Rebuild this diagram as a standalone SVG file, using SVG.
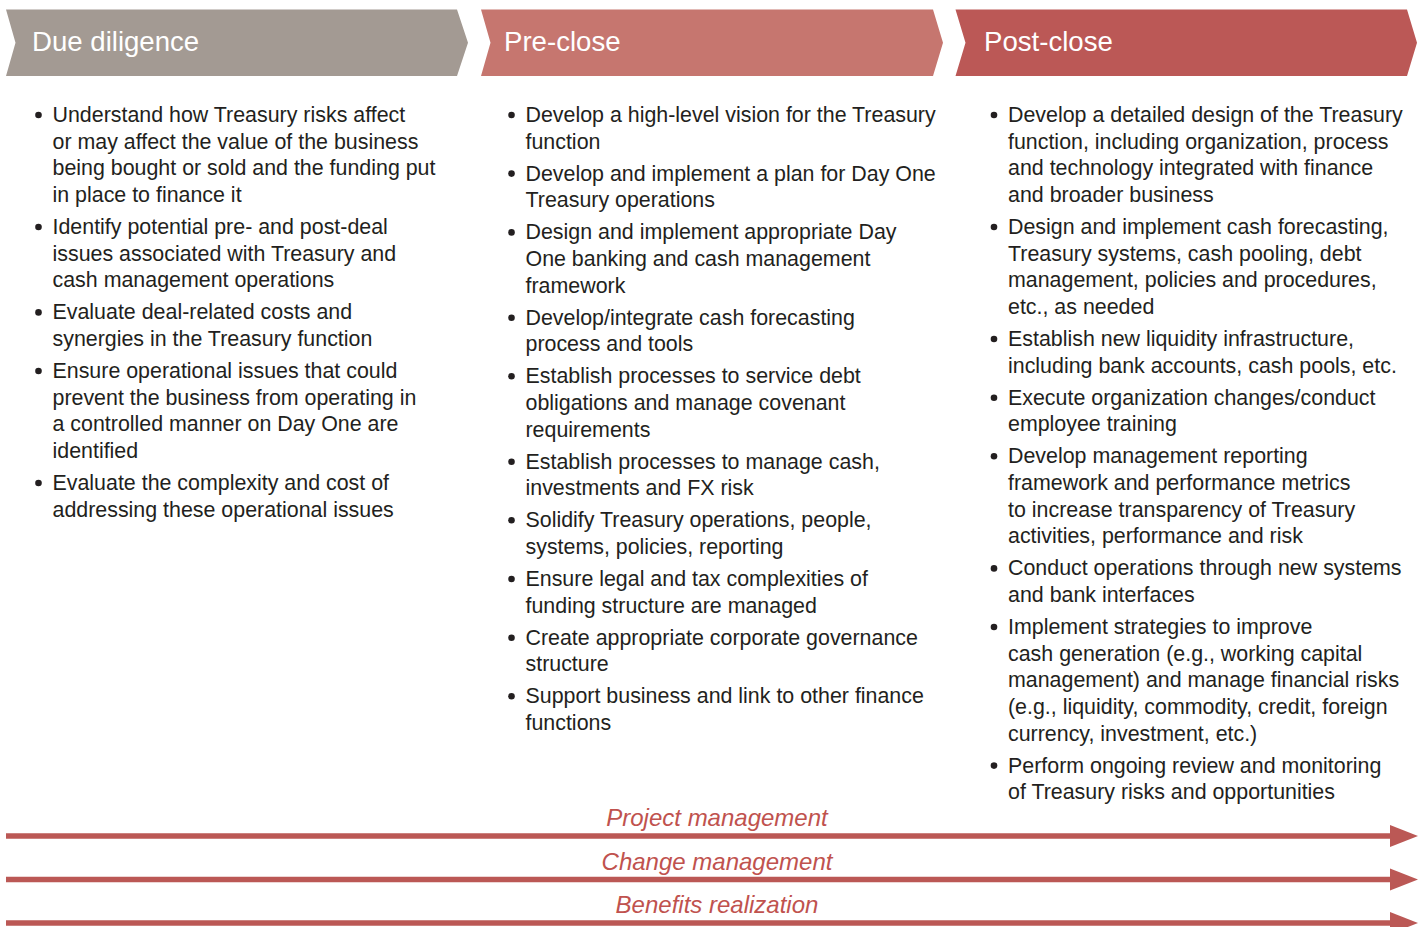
<svg xmlns="http://www.w3.org/2000/svg" width="1420" height="927" viewBox="0 0 1420 927">
<defs>
<style>
.hdr{font-family:"Liberation Sans",Arial,sans-serif;font-size:27.6px;fill:#ffffff}
.body{font-family:"Liberation Sans",Arial,sans-serif;font-size:21.4px;fill:#231f20}
.lbl{font-family:"Liberation Sans",Arial,sans-serif;font-size:24px;font-style:italic;fill:#c0524e;text-anchor:middle}
.dot{fill:#231f20}
.bar{stroke:#bb5855;stroke-width:5.5;fill:none}
.head{fill:#bb5855}
</style>
</defs>
<rect width="1420" height="927" fill="#ffffff"/>

<g id="due-diligence">
<polygon points="6,9.5 457,9.5 468,42.7 457,76 6,76 15.5,42.7" fill="#a39a93"/>
<text class="hdr" x="32" y="50.5">Due diligence</text>
</g>
<g id="pre-close">
<polygon points="481,9.5 933,9.5 943,42.7 933,76 481,76 490.5,42.7" fill="#c6766f"/>
<text class="hdr" x="504" y="50.5">Pre-close</text>
</g>
<g id="post-close">
<polygon points="955.5,9.5 1407,9.5 1417,42.7 1407,76 955.5,76 965.5,42.7" fill="#bb5856"/>
<text class="hdr" x="984" y="50.5">Post-close</text>
</g>

<g id="due-diligence-list">
<circle class="dot" cx="38.5" cy="115" r="3.3"/>
<circle class="dot" cx="38.5" cy="227" r="3.3"/>
<circle class="dot" cx="38.5" cy="312.4" r="3.3"/>
<circle class="dot" cx="38.5" cy="371" r="3.3"/>
<circle class="dot" cx="38.5" cy="483" r="3.3"/>
<text class="body">
<tspan x="52.5" y="122">Understand how Treasury risks affect</tspan>
<tspan x="52.5" y="148.7">or may affect the value of the business</tspan>
<tspan x="52.5" y="175.3">being bought or sold and the funding put</tspan>
<tspan x="52.5" y="202">in place to finance it</tspan>
<tspan x="52.5" y="234">Identify potential pre- and post-deal</tspan>
<tspan x="52.5" y="260.7">issues associated with Treasury and</tspan>
<tspan x="52.5" y="287.3">cash management operations</tspan>
<tspan x="52.5" y="319.4">Evaluate deal-related costs and</tspan>
<tspan x="52.5" y="346">synergies in the Treasury function</tspan>
<tspan x="52.5" y="378">Ensure operational issues that could</tspan>
<tspan x="52.5" y="404.7">prevent the business from operating in</tspan>
<tspan x="52.5" y="431.3">a controlled manner on Day One are</tspan>
<tspan x="52.5" y="458">identified</tspan>
<tspan x="52.5" y="490">Evaluate the complexity and cost of</tspan>
<tspan x="52.5" y="516.7">addressing these operational issues</tspan>
</text>
</g>

<g id="pre-close-list">
<circle class="dot" cx="511.5" cy="115" r="3.3"/>
<circle class="dot" cx="511.5" cy="173.6" r="3.3"/>
<circle class="dot" cx="511.5" cy="232.4" r="3.3"/>
<circle class="dot" cx="511.5" cy="317.7" r="3.3"/>
<circle class="dot" cx="511.5" cy="376.3" r="3.3"/>
<circle class="dot" cx="511.5" cy="461.7" r="3.3"/>
<circle class="dot" cx="511.5" cy="520.3" r="3.3"/>
<circle class="dot" cx="511.5" cy="579" r="3.3"/>
<circle class="dot" cx="511.5" cy="637.7" r="3.3"/>
<circle class="dot" cx="511.5" cy="696.3" r="3.3"/>
<text class="body">
<tspan x="525.5" y="122">Develop a high-level vision for the Treasury</tspan>
<tspan x="525.5" y="148.7">function</tspan>
<tspan x="525.5" y="180.6">Develop and implement a plan for Day One</tspan>
<tspan x="525.5" y="207.3">Treasury operations</tspan>
<tspan x="525.5" y="239.4">Design and implement appropriate Day</tspan>
<tspan x="525.5" y="266">One banking and cash management</tspan>
<tspan x="525.5" y="292.7">framework</tspan>
<tspan x="525.5" y="324.7">Develop/integrate cash forecasting</tspan>
<tspan x="525.5" y="351.4">process and tools</tspan>
<tspan x="525.5" y="383.3">Establish processes to service debt</tspan>
<tspan x="525.5" y="410">obligations and manage covenant</tspan>
<tspan x="525.5" y="436.7">requirements</tspan>
<tspan x="525.5" y="468.7">Establish processes to manage cash,</tspan>
<tspan x="525.5" y="495.4">investments and FX risk</tspan>
<tspan x="525.5" y="527.3">Solidify Treasury operations, people,</tspan>
<tspan x="525.5" y="554">systems, policies, reporting</tspan>
<tspan x="525.5" y="586">Ensure legal and tax complexities of</tspan>
<tspan x="525.5" y="612.7">funding structure are managed</tspan>
<tspan x="525.5" y="644.7">Create appropriate corporate governance</tspan>
<tspan x="525.5" y="671.4">structure</tspan>
<tspan x="525.5" y="703.3">Support business and link to other finance</tspan>
<tspan x="525.5" y="730">functions</tspan>
</text>
</g>

<g id="post-close-list">
<circle class="dot" cx="994" cy="115" r="3.3"/>
<circle class="dot" cx="994" cy="227" r="3.3"/>
<circle class="dot" cx="994" cy="339" r="3.3"/>
<circle class="dot" cx="994" cy="397.7" r="3.3"/>
<circle class="dot" cx="994" cy="456.3" r="3.3"/>
<circle class="dot" cx="994" cy="568.4" r="3.3"/>
<circle class="dot" cx="994" cy="627" r="3.3"/>
<circle class="dot" cx="994" cy="765.6" r="3.3"/>
<text class="body">
<tspan x="1008" y="122">Develop a detailed design of the Treasury</tspan>
<tspan x="1008" y="148.7">function, including organization, process</tspan>
<tspan x="1008" y="175.3">and technology integrated with finance</tspan>
<tspan x="1008" y="202">and broader business</tspan>
<tspan x="1008" y="234">Design and implement cash forecasting,</tspan>
<tspan x="1008" y="260.7">Treasury systems, cash pooling, debt</tspan>
<tspan x="1008" y="287.3">management, policies and procedures,</tspan>
<tspan x="1008" y="314">etc., as needed</tspan>
<tspan x="1008" y="346">Establish new liquidity infrastructure,</tspan>
<tspan x="1008" y="372.7">including bank accounts, cash pools, etc.</tspan>
<tspan x="1008" y="404.7">Execute organization changes/conduct</tspan>
<tspan x="1008" y="431.3">employee training</tspan>
<tspan x="1008" y="463.3">Develop management reporting</tspan>
<tspan x="1008" y="490">framework and performance metrics</tspan>
<tspan x="1008" y="516.7">to increase transparency of Treasury</tspan>
<tspan x="1008" y="543.3">activities, performance and risk</tspan>
<tspan x="1008" y="575.4">Conduct operations through new systems</tspan>
<tspan x="1008" y="602">and bank interfaces</tspan>
<tspan x="1008" y="634">Implement strategies to improve</tspan>
<tspan x="1008" y="660.7">cash generation (e.g., working capital</tspan>
<tspan x="1008" y="687.3">management) and manage financial risks</tspan>
<tspan x="1008" y="714">(e.g., liquidity, commodity, credit, foreign</tspan>
<tspan x="1008" y="740.7">currency, investment, etc.)</tspan>
<tspan x="1008" y="772.6">Perform ongoing review and monitoring</tspan>
<tspan x="1008" y="799.3">of Treasury risks and opportunities</tspan>
</text>
</g>

<g id="connectors">
<g id="project-management">
<line class="bar" x1="6" y1="836" x2="1393" y2="836"/>
<polygon class="head" points="1390,825 1418,836 1390,847"/>
<text class="lbl" x="717" y="826">Project management</text>
</g>
<g id="change-management">
<line class="bar" x1="6" y1="879.5" x2="1393" y2="879.5"/>
<polygon class="head" points="1390,868.5 1418,879.5 1390,890.5"/>
<text class="lbl" x="717" y="869.5">Change management</text>
</g>
<g id="benefits-realization">
<line class="bar" x1="6" y1="923" x2="1393" y2="923"/>
<polygon class="head" points="1390,912 1418,923 1390,934"/>
<text class="lbl" x="717" y="913">Benefits realization</text>
</g>
</g>
</svg>
